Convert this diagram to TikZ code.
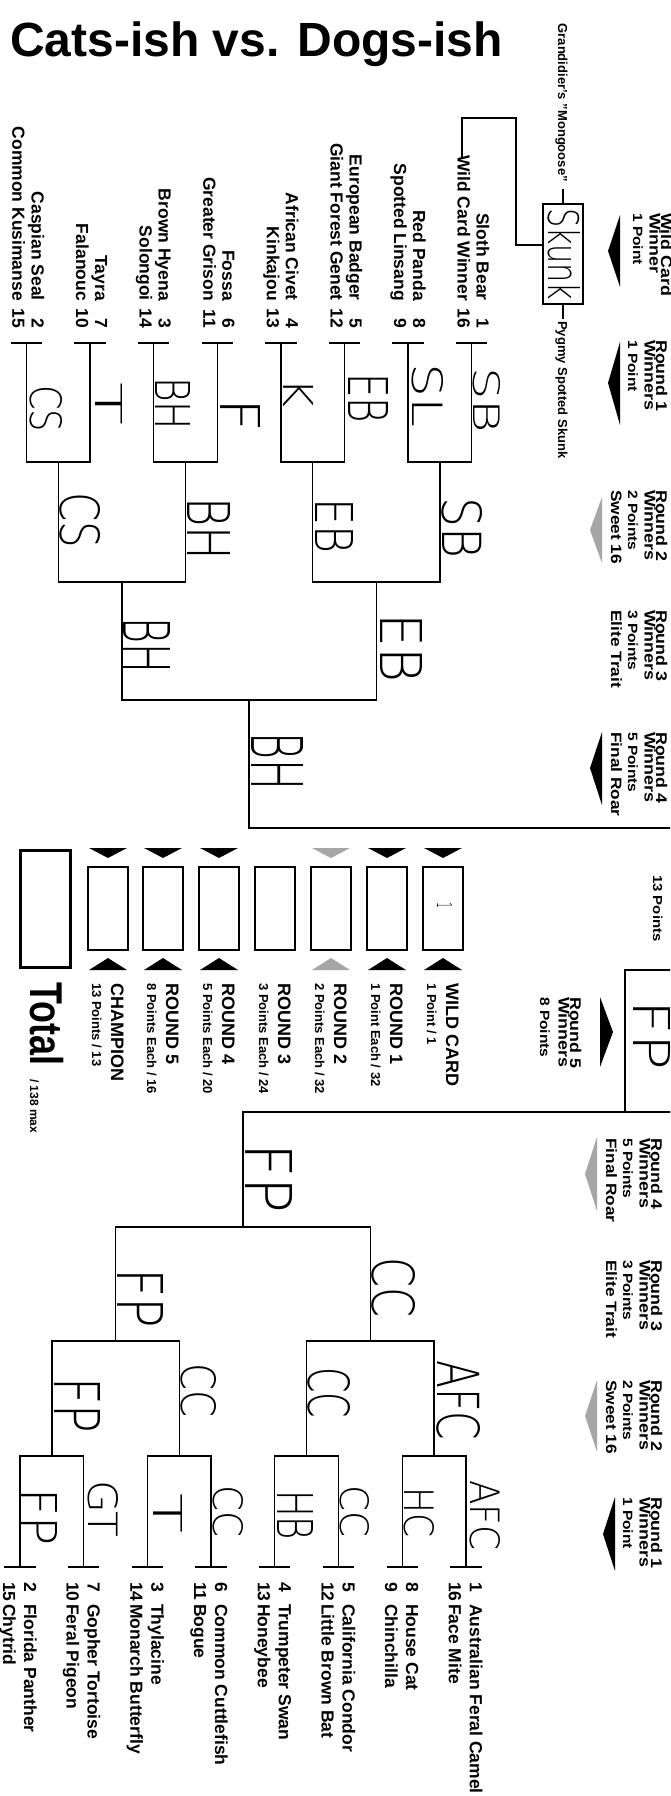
\documentclass[tikz,border=0pt]{standalone}
\usepackage{graphicx}
\usepackage{fontspec}
\setmainfont{Liberation Sans}
\IfFontExistsTF{DejaVu Sans ExtraLight}{\newfontfamily\handfont{DejaVu Sans ExtraLight}}{\newfontfamily\handfont{DejaVu Sans}}
\newcommand{\hw}[3]{\resizebox{#1pt}{#2pt}{\handfont #3}}
\newcommand{\pslash}{/}
\newcommand{\tall}[1]{\scalebox{1.15}[1]{#1}}
\tikzset{
  rot/.style={rotate=-90, inner sep=0pt},
  team/.style={rot, font=\bfseries\fontsize{17.5}{17.5}\selectfont},
  hand/.style={rot, anchor=base west},
  hdrbig/.style={rot, anchor=base west, font=\bfseries\fontsize{15.5}{15.5}\selectfont},
  hdrpts/.style={rot, anchor=base west, font=\bfseries\fontsize{13.5}{14}\selectfont},
  hdrext/.style={rot, anchor=base west, font=\bfseries\fontsize{15}{15}\selectfont},
  scorebox/.style={draw, line width=1.4pt, minimum width=40pt, minimum height=83pt, inner sep=0pt},
  wire/.style={line width=1.3pt, line cap=rect},
}
% one column of round headings: name, shift, top, four lines
\newcommand{\hdr}[7]{%
  \node[hdrbig] (#1a) at (656+#2,#3) {\tall{#4}};
  \node[hdrbig] (#1b) at (644.5+#2,#3) {\tall{#5}};
  \node[hdrpts] (#1c) at (628+#2,#3) {\tall{#6}};
  \node[hdrext] (#1d) at (611+#2,#3) {\tall{#7}};
}
\begin{document}
\begin{tikzpicture}[x=1pt,y=-1pt]
  \useasboundingbox (0,0) rectangle (670,1796);
  \fill[white] (0,0) rectangle (670,1796);
  \clip (0,0) rectangle (670,1796);
  \node[anchor=base west, inner sep=0pt, font=\bfseries\fontsize{48}{48}\selectfont] (title) at (10,56) {Cats-ish vs. Dogs-ish};

  % wild card game
  \node[scorebox, minimum height=100pt] (skunk) at (563,254) {};
  \node[hand] (skunkw) at (548,208) {\hw{92}{32}{Skunk}};
  \node[rot, anchor=base east, font=\bfseries\fontsize{13}{13}\selectfont] (mongoose) at (558,182) {Grandidier's "Mongoose"};
  \node[rot, anchor=base west, font=\bfseries\fontsize{13}{13}\selectfont] (pygmy) at (558,321) {Pygmy Spotted Skunk};
  \draw[wire] (563,190) -- (skunk.north); \draw[wire] (skunk.south) -- (563,318);
  \draw[wire] (543,245) -- (516,245) -- (516,118) -- (462,118) -- (462,158);

  % cats-ish bracket
  \foreach \i/\na/\sa/\nb/\sb in {7/Sloth Bear/1/Wild Card Winner/16, 6/Red Panda/8/Spotted Linsang/9, 5/European Badger/5/Giant Forest Genet/12, 4/African Civet/4/Kinkajou/13, 3/Fossa/6/Greater Grison/11, 2/Brown Hyena/3/Solongoi/14, 1/Tayra/7/Falanouc/10, 0/Caspian Seal/2/Common Kusimanse/15} {
    \pgfmathsetmacro\cx{26.5+63.6*\i}
    \node[team, anchor=base east] (cn\sa) at (\cx+5,301) {\na}; \node[team, anchor=base east] (cs\sa) at (\cx+5,328) {\sa};
    \node[team, anchor=base east] (cn\sb) at (\cx-14,301) {\nb}; \node[team, anchor=base east] (cs\sb) at (\cx-14,328) {\sb};
    \draw[wire] (\cx-15,343) -- (\cx+15,343) (\cx,343) -- (\cx,462);
  }
  \foreach \i in {0,...,3} {\pgfmathsetmacro\a{26.5+127.2*\i} \draw[wire] (\a,462) -- (\a+63.6,462) (\a+31.8,462) -- (\a+31.8,582);}
  \foreach \i in {0,1} {\pgfmathsetmacro\a{58.3+254.4*\i} \draw[wire] (\a,582) -- (\a+127.2,582) (\a+63.6,582) -- (\a+63.6,700);}
  \draw[wire] (121.9,700) -- (376.3,700) (249.1,700) -- (249.1,828) -- (671,828);

  % dogs-ish bracket
  \foreach \i/\sa/\na/\sb/\nb in {7/1/Australian Feral Camel/16/Face Mite, 6/8/House Cat/9/Chinchilla, 5/5/California Condor/12/Little Brown Bat, 4/4/Trumpeter Swan/13/Honeybee, 3/6/Common Cuttlefish/11/Bogue, 2/3/Thylacine/14/Monarch Butterfly, 1/7/Gopher Tortoise/10/Feral Pigeon, 0/2/Florida Panther/15/Chytrid} {
    \pgfmathsetmacro\cx{20+63.7*\i}
    \node[team, anchor=base west] (ds\sa) at (\cx+4,1582) {\sa}; \node[team, anchor=base west] (dn\sa) at (\cx+4,1604) {\na};
    \node[team, anchor=base west] (ds\sb) at (\cx-17,1582) {\sb}; \node[team, anchor=base west] (dn\sb) at (\cx-17,1604) {\nb};
    \draw[wire] (\cx-15,1567) -- (\cx+15,1567) (\cx,1567) -- (\cx,1456);
  }
  \foreach \i in {0,...,3} {\pgfmathsetmacro\a{20+127.4*\i} \draw[wire] (\a,1456) -- (\a+63.7,1456) (\a+31.85,1456) -- (\a+31.85,1341);}
  \foreach \i in {0,1} {\pgfmathsetmacro\a{51.85+254.8*\i} \draw[wire] (\a,1341) -- (\a+127.4,1341) (\a+63.7,1341) -- (\a+63.7,1227);}
  \draw[wire] (115.55,1227) -- (370.35,1227) (242.95,1227) -- (242.95,1112) -- (671,1112);
  \draw[wire] (671,970) -- (625,970) -- (625,1112);

  % picks
  \foreach \x/\y/\w/\h/\t [count=\k] in {473/367/66/27/SB, 412/363/64/31/SL, 348/373/50/40/EB, 283/378/29/30/K, 220/398/34/40/F, 155/377/53/35/BH, 95/382/43/27/T, 30/385/47/32/CS,
      442/497/61/40/SB, 315/498/55/38/EB, 187/497/63/43/BH, 60/492/56/40/CS, 380/613/69/42/EB, 123/617/56/47/BH, 251/732/58/52/BH,
      470/1480/70/30/AFC, 404/1487/50/30/HC, 340/1485/52/29/CC, 277/1490/50/36/HB, 213/1485/52/30/CC, 153/1493/40/29/T, 88/1480/57/30/GT, 22/1488/57/36/FP,
      437/1360/80/43/AFC, 308/1367/51/42/CC, 181/1363/54/35/CC, 54/1377/56/46/FP, 372/1257/60/43/CC, 117/1268/60/46/FP, 245/1143/70/47/FP,
      633/1000/70/37/FP, 437/902/6/15/1}
    \node[hand] (pick\k) at (\x,\y) {\hw{\w}{\h}{\t}};

  % round headings
  \hdr{wc}{5}{213}{Wild Card}{Winner}{1 Point}{}
  \hdr{cr1}{0}{340}{Round 1}{Winners}{1 Point}{}
  \hdr{cr2}{0}{490}{Round 2}{Winners}{2 Points}{Sweet 16}
  \hdr{cr3}{0}{610}{Round 3}{Winners}{3 Points}{Elite Trait}
  \hdr{cr4}{0}{732}{Round 4}{Winners}{5 Points}{Final Roar}
  \hdr{dr4}{-5}{1138}{Round 4}{Winners}{5 Points}{Final Roar}
  \hdr{dr3}{-5}{1260}{Round 3}{Winners}{3 Points}{Elite Trait}
  \hdr{dr2}{-5}{1380}{Round 2}{Winners}{2 Points}{Sweet 16}
  \hdr{dr1}{-5}{1497}{Round 1}{Winners}{1 Point}{}
  \node[hdrbig] (r5a) at (570,997) {\tall{Round 5}}; \node[hdrbig] (r5b) at (558.5,997) {\tall{Winners}};
  \node[hdrpts] (r5c) at (540,997) {\tall{8 Points}};
  \node[rot, anchor=base west, font=\bfseries\fontsize{13}{13}\selectfont] (champpts) at (653,875) {\tall{13 Points}};
  \fill (608,251) -- (620,215) -- (620,287) -- cycle;
  \fill (608,383) -- (620,342) -- (620,425) -- cycle;
  \fill[gray!70] (590,530) -- (602,497) -- (602,563) -- cycle;
  \fill (590,768) -- (602,732) -- (602,805) -- cycle;
  \fill (613,1032) -- (600,997) -- (600,1067) -- cycle;
  \fill[gray!70] (585,1174) -- (597,1137) -- (597,1211) -- cycle;
  \fill[gray!70] (585,1416) -- (597,1380) -- (597,1452) -- cycle;
  \fill (603,1534) -- (615,1497) -- (615,1571) -- cycle;

  % score card
  \foreach \bx/\lab/\sub in {423/WILD CARD/1 Point \pslash\ 1, 367/ROUND 1/1 Point Each \pslash\ 32, 311/ROUND 2/2 Points Each \pslash\ 32, 255/ROUND 3/3 Points Each \pslash\ 24, 199/ROUND 4/5 Points Each \pslash\ 20, 143/ROUND 5/8 Points Each \pslash\ 16, 88/CHAMPION/13 Points \pslash\ 13} {
    \node[scorebox] (box\bx) at (\bx+20,908.5) {};
    \node[rot, anchor=base west, font=\bfseries\fontsize{18}{18}\selectfont] (lab\bx) at (\bx+23,983) {\lab};
    \node[rot, anchor=base west, font=\bfseries\fontsize{13}{13}\selectfont] (sub\bx) at (\bx+4,983) {\sub};
  }
  \foreach \bx/\col in {423/black, 367/black, 311/gray!70, 199/black, 143/black, 88/black} {
    \fill[\col] (\bx+1,848) -- (\bx+39,848) -- (\bx+20,858) -- cycle;
    \fill[\col] (\bx+20,958) -- (\bx+39,970) -- (\bx+1,970) -- cycle;
  }
  \node[draw, line width=3pt, minimum width=50pt, minimum height=117pt, inner sep=0pt] (totalbox) at (45,908.5) {};
  \node[rot, anchor=base west, font=\bfseries] (total) at (30,982) {\scalebox{0.78}[1]{\fontsize{46}{46}\selectfont Total}\hspace{14pt}{\fontsize{12}{12}\selectfont / 138 max}};
\end{tikzpicture}
\end{document}
